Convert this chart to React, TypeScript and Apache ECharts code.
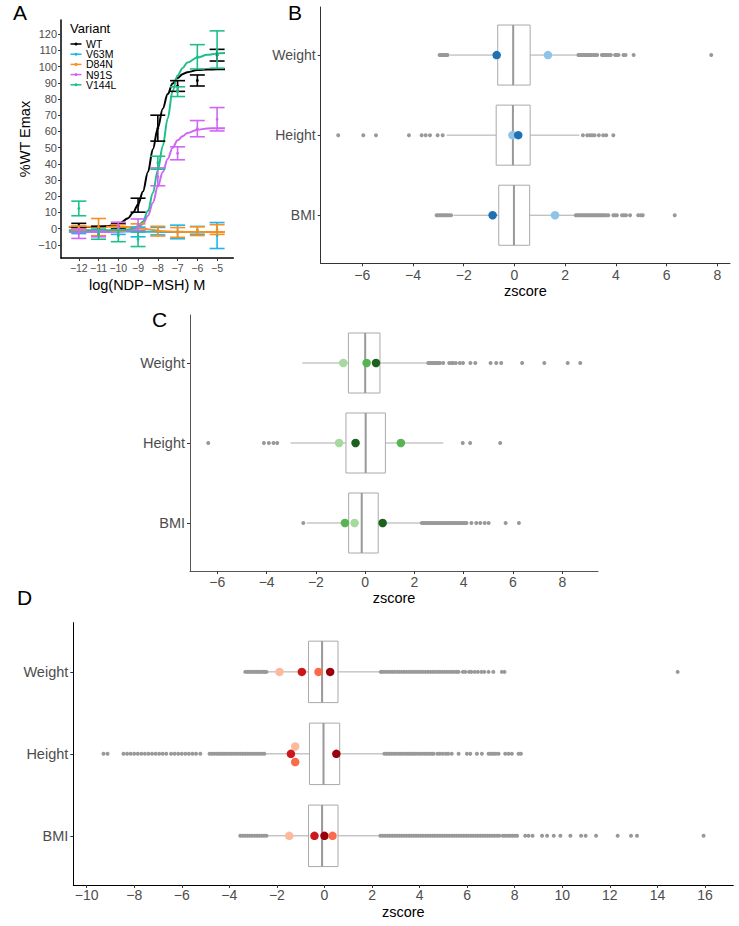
import React, { useEffect, useRef } from "react";
import * as echarts from "echarts";

const FONT = "Liberation Sans";

// ---------- Panel A data ----------
const variants = ["WT", "V63M", "D84N", "N91S", "V144L"];
const variantColors = ["#000000", "#1db5eb", "#f7901e", "#cf66f5", "#1fbf8c"];
const logDose = [-12, -11, -10, -9, -8, -7, -6, -5];
const aTicksY = [-10, 0, 10, 20, 30, 40, 50, 60, 70, 80, 90, 100, 110, 120];

const meanWT = [2, 0.5, 1.5, 14.5, 62, 88, 91.4, 107];
const errWT = [1.3, 1, 1.5, 4.3, 8, 3.3, 3.4, 3.6];
const meanV63M = [-1.5, -2.5, -2, -2, -1.5, -2, -1, -4.2];
const errV63M = [1.5, 2, 1.5, 3, 2.3, 4.2, 2.4, 8];
const meanD84N = [0.5, 1, 0.5, 1, -1.5, -2.3, -1.5, -0.5];
const errD84N = [1.2, 5.3, 2, 2, 3, 3, 2.7, 3];
const meanN91S = [-3, -3, 1.5, 2.5, 32, 46.5, 61.7, 67.5];
const errN91S = [3, 2, 2.5, 3.5, 5.5, 4, 5, 7.2];
const meanV144L = [12.5, -3.5, -4.4, -6.5, 40.7, 84.5, 106, 110.5];
const errV144L = [4.5, 3, 3.6, 4.5, 4, 3, 7.5, 11.5];

const curveX = [-12.5, -12, -11, -10.5, -10, -9.5, -9.25, -9, -8.75, -8.5, -8.25, -8, -7.75, -7.5, -7.25, -7, -6.75, -6.5, -6, -5.5, -5, -4.6];
const curveWT = [1.0, 1.0, 1.2, 1.6, 2.6, 6.5, 10, 15, 23, 35, 49, 62, 74, 83, 89.5, 93, 95.3, 96.5, 97.8, 98.2, 98.3, 98.3];
const curveV63M = [-1.5, -1.5, -1.6, -1.6, -1.7, -1.7, -1.8, -1.8, -1.8, -1.9, -1.9, -2.0, -2.0, -2.0, -2.0, -2.0, -2.0, -2.0, -2.0, -2.0, -2.0, -2.0];
const curveD84N = [1.2, 1.2, 1.2, 1.2, 1.1, 1.0, 0.8, 0.6, 0.2, -0.3, -0.8, -1.2, -1.5, -1.7, -1.8, -1.9, -1.95, -2.0, -2.0, -2.0, -2.0, -2.0];
const curveN91S = [-2, -2, -2, -2, -1.8, -1.2, -0.5, 0.5, 3, 8, 16, 26, 35, 43, 50, 54.5, 57, 59, 61, 61.8, 62, 62];
const curveV144L = [-1, -1, -1, -1, -0.9, -0.5, 0.3, 1.5, 4.5, 11, 22, 36, 51, 68, 85, 94.5, 99, 102.5, 105.5, 107.2, 108, 108.3];

const variantMeans = [meanWT, meanV63M, meanD84N, meanN91S, meanV144L];
const variantErrs = [errWT, errV63M, errD84N, errN91S, errV144L];
const variantCurves = [curveWT, curveV63M, curveD84N, curveN91S, curveV144L];

// ---------- Panels B, C, D data ----------
const traits = ["Weight", "Height", "BMI"];
const traitPos = [3, 2, 1];
const zTicksBC = [-6, -4, -2, 0, 2, 4, 6, 8];
const zTicksD = [-10, -8, -6, -4, -2, 0, 2, 4, 6, 8, 10, 12, 14, 16];

// box stats, order Weight, Height, BMI
const bLo = [-2.54, -2.67, -2.41];
const bQ1 = [-0.66, -0.72, -0.62];
const bMed = [-0.05, -0.06, -0.02];
const bQ3 = [0.62, 0.62, 0.6];
const bHi = [2.45, 2.56, 2.39];

const cLo = [-2.55, -3.03, -2.37];
const cQ1 = [-0.68, -0.78, -0.67];
const cMed = [0.0, 0.02, -0.14];
const cQ3 = [0.6, 0.82, 0.53];
const cHi = [2.5, 3.17, 2.29];

const dLo = [-2.42, -2.49, -2.42];
const dQ1 = [-0.67, -0.63, -0.67];
const dMed = [-0.1, -0.04, -0.1];
const dQ3 = [0.57, 0.64, 0.57];
const dHi = [2.35, 2.49, 2.32];

const bOutWeight = [-2.95, -2.9, -2.85, -2.8, -2.75, -2.7, -2.64, 2.52, 2.57, 2.62, 2.67, 2.72, 2.77, 2.82, 2.87, 2.92, 2.97, 3.03, 3.12, 3.18, 3.26, 3.45, 3.5, 3.55, 3.6, 3.66, 3.72, 3.8, 3.97, 4.04, 4.1, 4.3, 4.38, 4.7, 7.76];
const bOutHeight = [-6.95, -5.96, -5.46, -4.16, -3.66, -3.5, -3.33, -3.03, -2.83, 2.7, 2.87, 2.97, 3.06, 3.16, 3.33, 3.5, 3.62, 3.9];
const bOutBMI = [-3.07, -3.0, -2.93, -2.86, -2.79, -2.72, -2.65, -2.58, -2.5, 2.42, 2.48, 2.54, 2.6, 2.66, 2.72, 2.78, 2.84, 2.9, 2.96, 3.02, 3.08, 3.14, 3.2, 3.26, 3.32, 3.38, 3.44, 3.5, 3.56, 3.62, 3.7, 3.9, 3.97, 4.04, 4.24, 4.32, 4.4, 4.56, 4.88, 4.98, 5.06, 6.32];

const cOutWeight = [2.56, 2.62, 2.68, 2.74, 2.8, 2.86, 2.92, 2.98, 3.04, 3.17, 3.41, 3.5, 3.57, 3.68, 3.84, 3.97, 4.27, 4.47, 5.09, 5.32, 5.52, 6.37, 7.27, 8.22, 8.73];
const cOutHeight = [-6.37, -4.11, -3.91, -3.72, -3.57, 3.96, 4.26, 5.48];
const cOutBMI = [-2.51, 2.3, 2.37, 2.44, 2.51, 2.58, 2.65, 2.72, 2.79, 2.86, 2.93, 3.0, 3.07, 3.14, 3.21, 3.28, 3.35, 3.42, 3.49, 3.56, 3.63, 3.7, 3.77, 3.84, 3.91, 3.98, 4.05, 4.11, 4.31, 4.51, 4.67, 4.85, 5.01, 5.7, 6.24];

const dOutWeight = [-3.33, -3.25, -3.17, -3.1, -3.02, -2.95, -2.87, -2.8, -2.72, -2.65, -2.57, -2.5, -2.44, 2.37, 2.45, 2.55, 2.65, 2.75, 2.85, 2.95, 3.05, 3.15, 3.25, 3.35, 3.45, 3.55, 3.65, 3.75, 3.85, 3.95, 4.05, 4.15, 4.25, 4.35, 4.45, 4.55, 4.65, 4.75, 4.85, 4.95, 5.05, 5.15, 5.25, 5.35, 5.45, 5.55, 5.64, 5.82, 5.92, 6.08, 6.18, 6.32, 6.45, 6.6, 6.72, 6.9, 7.1, 7.46, 7.57, 14.85];
const dOutHeight = [-9.29, -9.12, -8.45, -8.3, -8.15, -8.0, -7.85, -7.7, -7.55, -7.4, -7.25, -7.1, -6.95, -6.8, -6.65, -6.45, -6.3, -6.15, -6.0, -5.85, -5.7, -5.55, -5.4, -5.22, -4.83, -4.73, -4.63, -4.53, -4.43, -4.33, -4.23, -4.13, -4.03, -3.93, -3.83, -3.73, -3.63, -3.53, -3.43, -3.33, -3.23, -3.13, -3.03, -2.93, -2.83, -2.73, -2.63, -2.53, 2.52, 2.62, 2.72, 2.82, 2.92, 3.02, 3.12, 3.22, 3.32, 3.42, 3.52, 3.62, 3.72, 3.82, 3.92, 4.02, 4.12, 4.22, 4.32, 4.42, 4.52, 4.59, 4.75, 4.85, 4.97, 5.1, 5.2, 5.35, 5.64, 5.99, 6.13, 6.41, 6.62, 6.9, 7.0, 7.1, 7.2, 7.32, 7.6, 7.74, 7.88, 8.16, 8.26];
const dOutBMI = [-3.54, -3.44, -3.34, -3.24, -3.14, -3.04, -2.94, -2.84, -2.74, -2.64, -2.54, -2.44, 2.35, 2.45, 2.55, 2.65, 2.75, 2.85, 2.95, 3.05, 3.15, 3.25, 3.35, 3.45, 3.55, 3.65, 3.75, 3.85, 3.95, 4.05, 4.15, 4.25, 4.35, 4.45, 4.55, 4.65, 4.75, 4.85, 4.95, 5.05, 5.15, 5.25, 5.35, 5.45, 5.55, 5.65, 5.75, 5.85, 5.95, 6.05, 6.15, 6.25, 6.35, 6.45, 6.55, 6.65, 6.75, 6.85, 6.95, 7.05, 7.15, 7.25, 7.35, 7.5, 7.6, 7.7, 7.8, 7.9, 8.0, 8.1, 8.44, 8.58, 8.75, 9.15, 9.36, 9.64, 9.92, 10.34, 10.79, 10.98, 11.42, 12.33, 12.89, 13.14, 15.94];

const blueShades = ["#8dc4e8", "#2070b4"];
const bHighTrait = ["Weight", "Weight", "Height", "Height", "BMI", "BMI"];
const bHighZ = [-0.7, 1.32, -0.08, 0.15, -0.86, 1.6];
const bHighShade = [1, 0, 0, 1, 1, 0];

const greenShades = ["#a5d99e", "#58b453", "#1c611e"];
const cHighTrait = ["Weight", "Weight", "Weight", "Height", "Height", "Height", "BMI", "BMI", "BMI"];
const cHighZ = [-0.89, 0.06, 0.44, -1.06, -0.39, 1.45, -0.82, -0.43, 0.71];
const cHighShade = [0, 1, 2, 0, 2, 1, 1, 0, 2];

const redShades = ["#fcb99c", "#fb6a4a", "#cb181d", "#99000d"];
const dHighTrait = ["Weight", "Weight", "Weight", "Weight", "Height", "Height", "Height", "Height", "BMI", "BMI", "BMI", "BMI"];
const dHighZ = [-1.89, -0.95, -0.25, 0.24, -1.23, -1.41, -1.23, 0.5, -1.48, -0.42, 0.0, 0.34];
const dHighShade = [0, 2, 1, 3, 0, 2, 1, 3, 0, 2, 3, 1];
const dHighJitter = [0, 0, 0, 0, 0.09, 0, -0.1, 0, 0, 0, 0, 0];

// ---------- helpers ----------
const fmtNum = (v: number) => (v < 0 ? "\u2212" + Math.abs(v) : String(v));
const posOf = (t: string) => traitPos[traits.indexOf(t)];
const traitAt = (v: number) => {
  const i = traitPos.indexOf(Math.round(v));
  return i >= 0 ? traits[i] : "";
};

function xAxisCfg(gi: number, min: number, max: number, ticks: number[], o: any) {
  return {
    gridIndex: gi,
    type: "value",
    min,
    max,
    splitLine: { show: false },
    axisLine: { show: true, onZero: false, lineStyle: { color: o.lineColor, width: o.lineWidth } },
    axisTick: { show: true, customValues: ticks, length: 3, lineStyle: { color: "#333333", width: 1 } },
    axisLabel: {
      customValues: ticks,
      formatter: fmtNum,
      fontSize: o.fontSize,
      color: "#4d4d4d",
      margin: o.margin,
      fontFamily: FONT,
    },
    name: o.name,
    nameLocation: "middle",
    nameGap: o.nameGap,
    nameTextStyle: { fontSize: o.nameSize, color: "#000000", fontFamily: FONT },
  };
}

function yTraitAxis(gi: number, lineColor: string, fontSize: number, margin: number) {
  return {
    gridIndex: gi,
    type: "value",
    min: 0.4,
    max: 3.6,
    splitLine: { show: false },
    axisLine: { show: true, onZero: false, lineStyle: { color: lineColor, width: 1 } },
    axisTick: { show: true, customValues: traitPos, length: 3, lineStyle: { color: "#333333", width: 1 } },
    axisLabel: {
      customValues: traitPos,
      formatter: (v: number) => traitAt(v),
      fontSize,
      color: "#4d4d4d",
      margin,
      fontFamily: FONT,
    },
  };
}

function boxSeries(ai: number, lo: number[], q1: number[], med: number[], q3: number[], hi: number[]) {
  const data = traits.map((t, i) => [traitPos[i], lo[i], q1[i], med[i], q3[i], hi[i]]);
  return {
    type: "custom",
    xAxisIndex: ai,
    yAxisIndex: ai,
    silent: true,
    z: 2,
    data,
    encode: { x: [1, 2, 3, 4, 5], y: 0 },
    renderItem: (params: any, api: any) => {
      const y = api.value(0);
      const pLo = api.coord([api.value(1), y]);
      const pQ1 = api.coord([api.value(2), y]);
      const pMed = api.coord([api.value(3), y]);
      const pQ3 = api.coord([api.value(4), y]);
      const pHi = api.coord([api.value(5), y]);
      const hh = api.size([0, 0.75])[1] / 2;
      const stroke = "#aaaaaa";
      return {
        type: "group",
        children: [
          { type: "line", shape: { x1: pLo[0], y1: pLo[1], x2: pQ1[0], y2: pQ1[1] }, style: { stroke, lineWidth: 1 } },
          { type: "line", shape: { x1: pQ3[0], y1: pQ3[1], x2: pHi[0], y2: pHi[1] }, style: { stroke, lineWidth: 1 } },
          {
            type: "rect",
            shape: { x: pQ1[0], y: pQ1[1] - hh, width: pQ3[0] - pQ1[0], height: 2 * hh },
            style: { fill: "#ffffff", stroke, lineWidth: 1 },
          },
          {
            type: "line",
            shape: { x1: pMed[0], y1: pMed[1] - hh, x2: pMed[0], y2: pMed[1] + hh },
            style: { stroke: "#999999", lineWidth: 2 },
          },
        ],
      };
    },
  };
}

function outlierSeries(ai: number, lists: number[][]) {
  const data: number[][] = [];
  lists.forEach((arr, i) => arr.forEach((z) => data.push([z, traitPos[i]])));
  return {
    type: "scatter",
    xAxisIndex: ai,
    yAxisIndex: ai,
    silent: true,
    z: 3,
    symbolSize: 4,
    itemStyle: { color: "#999999", opacity: 1 },
    data,
  };
}

function highlightSeries(ai: number, trait: string[], zs: number[], shade: number[], palette: string[], jitter?: number[]) {
  const data = zs.map((z, i) => ({
    value: [z, posOf(trait[i]) + (jitter ? jitter[i] : 0)],
    itemStyle: { color: palette[shade[i]], opacity: 1 },
  }));
  return {
    type: "scatter",
    xAxisIndex: ai,
    yAxisIndex: ai,
    silent: true,
    z: 4,
    symbolSize: 8.5,
    itemStyle: { opacity: 1 },
    data,
  };
}

export default function App() {
  const ref = useRef<HTMLDivElement>(null);

  useEffect(() => {
    if (!ref.current) return;
    const chart = echarts.init(ref.current, undefined, { renderer: "svg" });

    const curveSeries = variants.map((v, k) => ({
      type: "line",
      name: v,
      xAxisIndex: 0,
      yAxisIndex: 0,
      showSymbol: false,
      smooth: 0.35,
      smoothMonotone: "x",
      silent: true,
      z: 2,
      lineStyle: { color: variantColors[k], width: 2 },
      itemStyle: { color: variantColors[k] },
      data: curveX.map((x, i) => [x, variantCurves[k][i]]),
    }));

    const errSeries = variants.map((v, k) => ({
      type: "custom",
      name: v + " error",
      xAxisIndex: 0,
      yAxisIndex: 0,
      silent: true,
      z: 3,
      data: logDose.map((x, i) => [x, variantMeans[k][i], variantErrs[k][i]]),
      encode: { x: 0, y: 1 },
      renderItem: (params: any, api: any) => {
        const x = api.value(0);
        const m = api.value(1);
        const e = api.value(2);
        const top = api.coord([x, m + e]);
        const bot = api.coord([x, m - e]);
        const mid = api.coord([x, m]);
        const hw = 7.5;
        const c = variantColors[k];
        const st = { stroke: c, lineWidth: 1.6 };
        return {
          type: "group",
          children: [
            { type: "line", shape: { x1: top[0], y1: top[1], x2: bot[0], y2: bot[1] }, style: st },
            { type: "line", shape: { x1: top[0] - hw, y1: top[1], x2: top[0] + hw, y2: top[1] }, style: st },
            { type: "line", shape: { x1: bot[0] - hw, y1: bot[1], x2: bot[0] + hw, y2: bot[1] }, style: st },
            { type: "circle", shape: { cx: mid[0], cy: mid[1], r: 1.4 }, style: { fill: c } },
          ],
        };
      },
    }));

    const legendGraphics: any[] = [
      {
        type: "text",
        left: 70,
        top: 22,
        style: { text: "Variant", fontSize: 13, fill: "#000000", fontFamily: FONT },
      },
    ];
    variants.forEach((v, k) => {
      const cy = 44 + k * 10.2;
      legendGraphics.push(
        { type: "line", shape: { x1: 70.5, y1: cy, x2: 81.5, y2: cy }, style: { stroke: variantColors[k], lineWidth: 1.5 } },
        { type: "circle", shape: { cx: 76, cy, r: 1.5 }, style: { fill: variantColors[k] } },
        {
          type: "text",
          x: 86,
          y: cy,
          style: { text: v, fontSize: 10.5, fill: "#000000", fontFamily: FONT, verticalAlign: "middle" },
        }
      );
    });

    const letters = [
      { t: "A", x: 13, y: 12 },
      { t: "B", x: 288, y: 12 },
      { t: "C", x: 152, y: 319 },
      { t: "D", x: 17, y: 597 },
    ].map((l) => ({
      type: "text",
      x: l.x,
      y: l.y,
      style: { text: l.t, fontSize: 21, fill: "#000000", fontFamily: FONT, verticalAlign: "middle" },
    }));

    const option: any = {
      animation: false,
      textStyle: { fontFamily: FONT },
      grid: [
        { left: 61, top: 20, width: 172.3, height: 238, outerBoundsMode: "none" },
        { left: 320.7, top: 7, width: 409.3, height: 256.3, outerBoundsMode: "none" },
        { left: 190, top: 315, width: 408, height: 256, outerBoundsMode: "none" },
        { left: 73.3, top: 622.7, width: 660, height: 262.3, outerBoundsMode: "none" },
      ],
      xAxis: [
        xAxisCfg(0, -12.9, -4.18, logDose, {
          lineColor: "#000000", lineWidth: 1.5, fontSize: 10.5, margin: 4,
          name: "log(NDP\u2212MSH) M", nameGap: 19, nameSize: 14.5,
        }),
        xAxisCfg(1, -7.64, 8.5, zTicksBC, {
          lineColor: "#333333", lineWidth: 1, fontSize: 14, margin: 5,
          name: "zscore", nameGap: 19, nameSize: 14.5,
        }),
        xAxisCfg(2, -7.11, 9.45, zTicksBC, {
          lineColor: "#555555", lineWidth: 1, fontSize: 14, margin: 4,
          name: "zscore", nameGap: 19, nameSize: 14.5,
        }),
        xAxisCfg(3, -10.56, 17.19, zTicksD, {
          lineColor: "#000000", lineWidth: 1, fontSize: 14, margin: 3,
          name: "zscore", nameGap: 19, nameSize: 14.5,
        }),
      ],
      yAxis: [
        {
          gridIndex: 0,
          type: "value",
          min: -18.06,
          max: 128.7,
          splitLine: { show: false },
          axisLine: { show: true, onZero: false, lineStyle: { color: "#000000", width: 1.5 } },
          axisTick: { show: true, customValues: aTicksY, length: 3, lineStyle: { color: "#333333" } },
          axisLabel: { customValues: aTicksY, formatter: fmtNum, fontSize: 11, color: "#4d4d4d", margin: 4, fontFamily: FONT },
          name: "%WT Emax",
          nameLocation: "middle",
          nameGap: 29,
          nameTextStyle: { fontSize: 14.5, color: "#000000", fontFamily: FONT },
        },
        yTraitAxis(1, "#333333", 14, 5),
        yTraitAxis(2, "#555555", 14.5, 5),
        yTraitAxis(3, "#000000", 14.5, 5),
      ],
      series: [
        ...curveSeries,
        ...errSeries,
        boxSeries(1, bLo, bQ1, bMed, bQ3, bHi),
        outlierSeries(1, [bOutWeight, bOutHeight, bOutBMI]),
        highlightSeries(1, bHighTrait, bHighZ, bHighShade, blueShades),
        boxSeries(2, cLo, cQ1, cMed, cQ3, cHi),
        outlierSeries(2, [cOutWeight, cOutHeight, cOutBMI]),
        highlightSeries(2, cHighTrait, cHighZ, cHighShade, greenShades),
        boxSeries(3, dLo, dQ1, dMed, dQ3, dHi),
        outlierSeries(3, [dOutWeight, dOutHeight, dOutBMI]),
        highlightSeries(3, dHighTrait, dHighZ, dHighShade, redShades, dHighJitter),
      ],
      graphic: [...legendGraphics, ...letters],
    };

    chart.setOption(option);
    return () => chart.dispose();
  }, []);

  return (
    <div
      ref={ref}
      style={{ position: "fixed", left: 0, top: 0, width: 739, height: 926, background: "#ffffff" }}
    />
  );
}
